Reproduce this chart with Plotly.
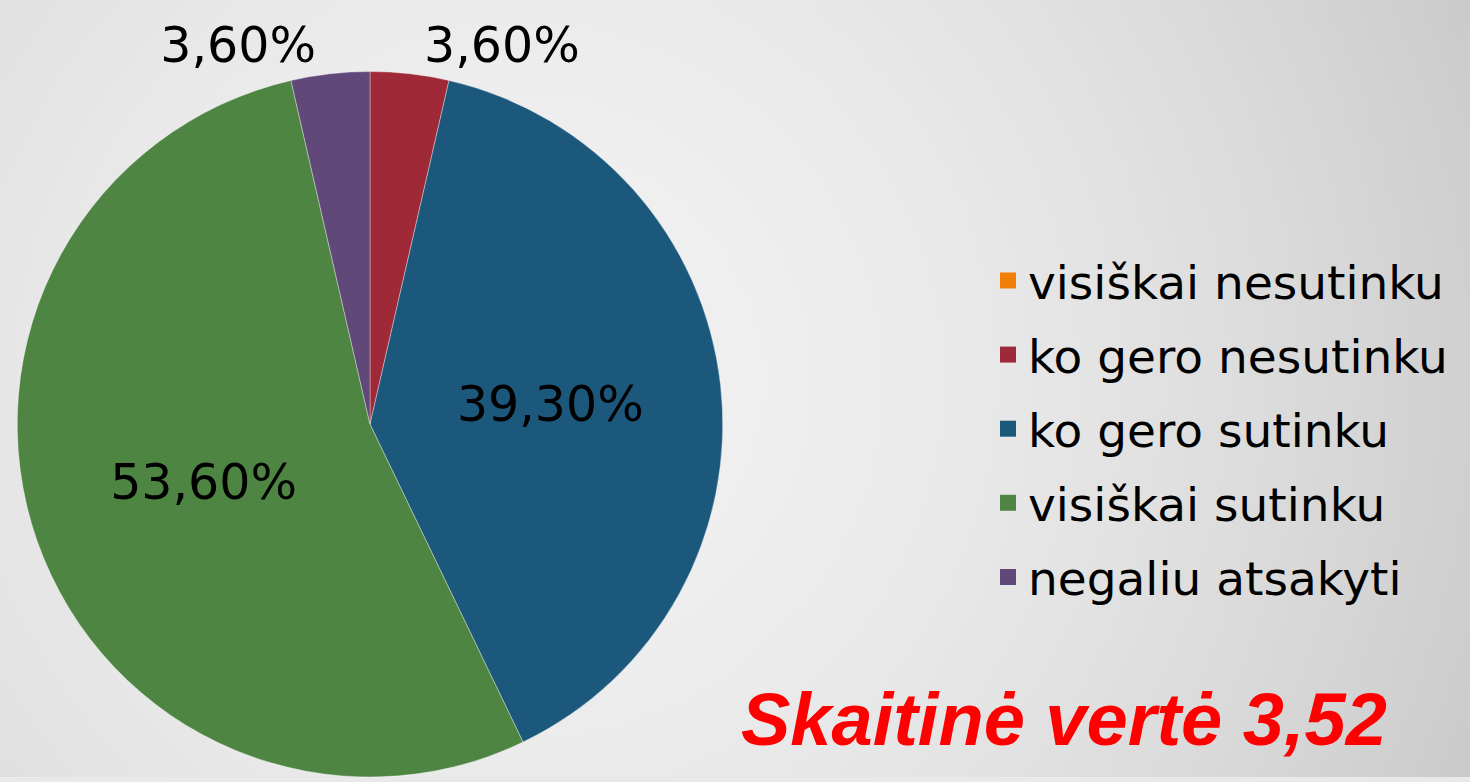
import base64
import struct
import zlib

import numpy as np
import plotly.graph_objects as go

# ---------------- data ----------------
categories = [
    "visiškai nesutinku",
    "ko gero nesutinku",
    "ko gero sutinku",
    "visiškai sutinku",
    "negaliu atsakyti",
]
values = [0.0, 3.6, 39.3, 53.6, 3.6]
colors = ["#F07F09", "#9F2936", "#1B587C", "#4E8542", "#604878"]
text_positions = ["inside", "outside", "inside", "inside", "outside"]
score_label = "Skaitinė vertė 3,52"

labels_text = [("" if v == 0 else f"{v:.2f}%".replace(".", ",")) for v in values]

W, H = 1470, 782


# ---------------- background gradient (PNG data URI) ----------------
def png_data_uri(arr):
    h, w, _ = arr.shape
    raw = b"".join(b"\x00" + arr[y].tobytes() for y in range(h))

    def chunk(t, d):
        c = struct.pack(">I", len(d)) + t + d
        return c + struct.pack(">I", zlib.crc32(t + d) & 0xFFFFFFFF)

    png = (
        b"\x89PNG\r\n\x1a\n"
        + chunk(b"IHDR", struct.pack(">IIBBBBB", w, h, 8, 2, 0, 0, 0))
        + chunk(b"IDAT", zlib.compress(raw, 9))
        + chunk(b"IEND", b"")
    )
    return "data:image/png;base64," + base64.b64encode(png).decode()


gw, gh = 294, 157
yy, xx = np.mgrid[0:gh, 0:gw]
px = xx * (W / gw)
py = yy * (H / gh)
d = np.sqrt((px - 520) ** 2 + (py - 380) ** 2)
g = 242 - 48 * np.clip(d / 1150, 0, 1.2) ** 1.8
g = np.clip(g, 0, 255).astype(np.uint8)
img = np.stack([g, g, g], axis=-1)
bg_uri = png_data_uri(img)

# ---------------- figure ----------------
fig = go.Figure()
fig.add_trace(
    go.Pie(
        labels=categories,
        values=values,
        text=labels_text,
        textinfo="text",
        textposition=text_positions,
        insidetextorientation="horizontal",
        textfont=dict(family="DejaVu Sans", size=49, color="black"),
        marker=dict(colors=colors, line=dict(color="rgba(255,255,255,0.35)", width=1)),
        sort=False,
        direction="clockwise",
        rotation=0,
        hoverinfo="label+percent",
        domain=dict(x=[14 / W, 726 / W], y=[0, 710 / H]),
        showlegend=False,
    )
)

# legend entries (one per category, square swatches)
for cat, col in zip(categories, colors):
    fig.add_trace(
        go.Scatter(
            x=[None],
            y=[None],
            mode="markers",
            name=cat,
            legendgroup=cat,
            marker=dict(symbol="square", size=26, color=col),
            showlegend=True,
            hoverinfo="skip",
        )
    )

fig.update_layout(
    width=W,
    height=H,
    margin=dict(l=0, r=0, t=0, b=0),
    paper_bgcolor="#e9e9e9",
    plot_bgcolor="rgba(0,0,0,0)",
    xaxis=dict(visible=False),
    yaxis=dict(visible=False),
    legend=dict(
        x=988 / W,
        xanchor="left",
        y=1 - 245 / H,
        yanchor="top",
        font=dict(family="DejaVu Sans", size=47, color="black"),
        bgcolor="rgba(0,0,0,0)",
        traceorder="grouped",
        tracegroupgap=10,
        itemsizing="trace",
    ),
    images=[
        dict(
            source=bg_uri,
            xref="paper",
            yref="paper",
            x=0,
            y=1,
            sizex=1,
            sizey=1,
            sizing="stretch",
            xanchor="left",
            yanchor="top",
            layer="below",
        )
    ],
    annotations=[
        dict(
            text=score_label,
            xref="paper",
            yref="paper",
            x=1064 / W,
            y=1 - 724 / H,
            xanchor="center",
            yanchor="middle",
            showarrow=False,
            font=dict(family="Liberation Sans", size=74, color="#FF0000", weight="bold", style="italic"),
        )
    ],
)

fig.write_html(
    "out.html",
    config={"displayModeBar": False},
    post_script="document.body.style.margin='0';document.body.style.overflow='hidden';",
)
